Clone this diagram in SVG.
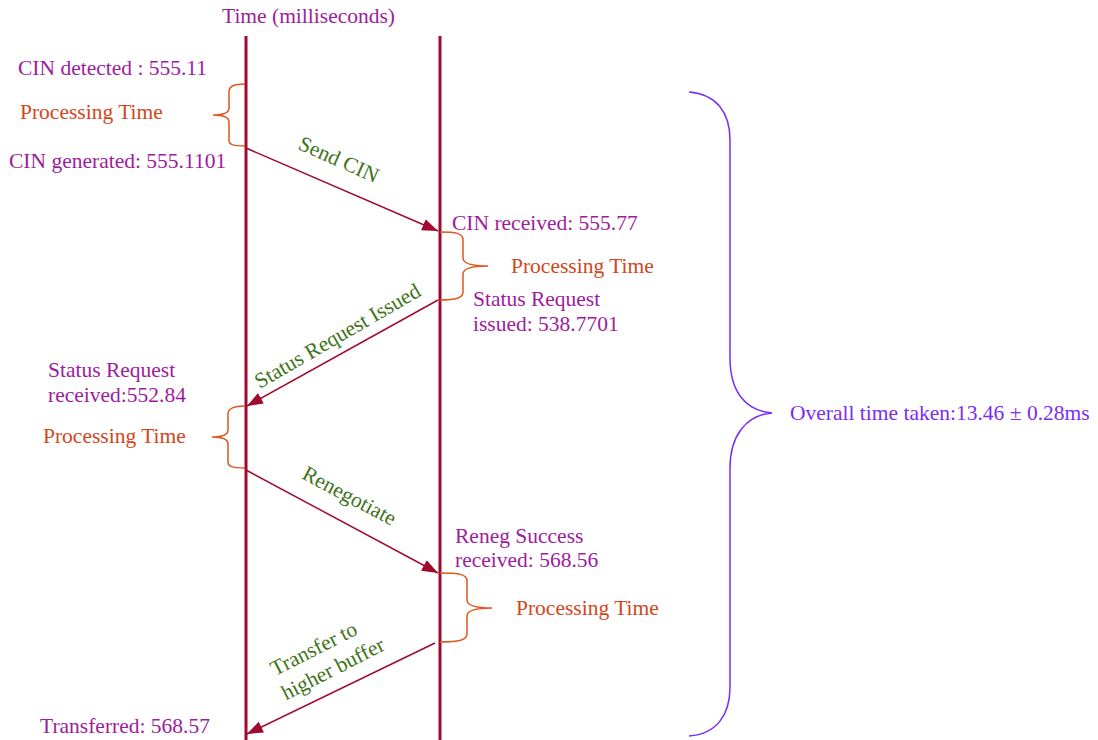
<svg xmlns="http://www.w3.org/2000/svg" width="1098" height="740" viewBox="0 0 1098 740">
  <style>
    text { font-family: "Liberation Serif", "Times New Roman", serif; font-size: 21.5px; }
    .ts { fill: #9e1c9c; }
    .pt { fill: #d4461a; }
    .msg { fill: #3e7318; text-anchor: middle; }
    .total { fill: #7b2cf5; }
    .life { stroke: #a00a2e; stroke-width: 3; fill: none; }
    .arrow { stroke: #a00a2e; stroke-width: 1.5; fill: none; marker-end: url(#head); }
    .brace { stroke: #e0561f; stroke-width: 1.5; fill: none; }
    .bigbrace { stroke: #7b2cf5; stroke-width: 1.5; fill: none; }
  </style>
  <defs>
    <marker id="head" viewBox="0 0 16 12" refX="16" refY="6" markerWidth="16" markerHeight="12" markerUnits="userSpaceOnUse" orient="auto">
      <path d="M0,0 L16,6 L0,12 z" fill="#a00a2e"/>
    </marker>
  </defs>
  <rect width="1098" height="740" fill="#ffffff"/>

  <text class="ts" x="222" y="23">Time (milliseconds)</text>

  <!-- lifelines -->
  <g id="lifelines">
    <line class="life" x1="246" y1="36" x2="246" y2="740"/>
    <line class="life" x1="440" y1="36" x2="440" y2="740"/>
  </g>

  <!-- messages between the two lifelines -->
  <g id="connectors">
    <line class="arrow" x1="246" y1="148" x2="438" y2="231"/>
    <line class="arrow" x1="438" y1="300" x2="247" y2="406"/>
    <line class="arrow" x1="246" y1="470" x2="438" y2="573"/>
    <line class="arrow" x1="435" y1="643" x2="247" y2="734"/>
  </g>

  <g id="msg-send-cin">
    <text class="msg" transform="translate(336,166) rotate(24)">Send CIN</text>
  </g>
  <g id="msg-status-request">
    <text class="msg" transform="translate(341,342) rotate(-30)">Status Request Issued</text>
  </g>
  <g id="msg-renegotiate">
    <text class="msg" transform="translate(346,502) rotate(28)">Renegotiate</text>
  </g>
  <g id="msg-transfer">
    <text class="msg" transform="translate(317,655) rotate(-27)">Transfer to</text>
    <text class="msg" transform="translate(336,675) rotate(-27)">higher buffer</text>
  </g>

  <!-- step 1: detection to generation -->
  <g id="step-cin-detect">
    <text class="ts" x="18" y="75">CIN detected : 555.11</text>
    <path class="brace" d="M245,84 C234,84 229,86 229,92 L229,108 C229,113 222,115 213,115 C222,115 229,117 229,122 L229,140 C229,145 234,146 245,146"/>
    <text class="pt" x="20" y="119">Processing Time</text>
    <text class="ts" x="9" y="168">CIN generated: 555.1101</text>
  </g>

  <!-- step 2: reception to status request -->
  <g id="step-cin-receive">
    <text class="ts" x="452" y="230">CIN received: 555.77</text>
    <path class="brace" d="M440,232 C456,232 463,233 463,240 L463,258 C463,263 472,266 488,266 C472,266 463,269 463,274 L463,292 C463,298 456,300 440,300"/>
    <text class="pt" x="511" y="273">Processing Time</text>
    <text class="ts" x="473" y="306">Status Request</text>
    <text class="ts" x="473" y="331">issued: 538.7701</text>
  </g>

  <!-- step 3: status received to renegotiation -->
  <g id="step-status-receive">
    <text class="ts" x="48" y="377">Status Request</text>
    <text class="ts" x="48" y="402">received:552.84</text>
    <path class="brace" d="M245,406 C234,406 228,408 228,414 L228,430 C228,435 221,437 212,437 C221,437 228,439 228,444 L228,462 C228,467 234,468 245,468"/>
    <text class="pt" x="43" y="443">Processing Time</text>
  </g>

  <!-- step 4: renegotiation success to transfer -->
  <g id="step-reneg-success">
    <text class="ts" x="455" y="543">Reneg Success</text>
    <text class="ts" x="455" y="567">received: 568.56</text>
    <path class="brace" d="M440,573 C459,573 467,574 467,581 L467,600 C467,605 476,608 492,608 C476,608 467,611 467,616 L467,634 C467,640 459,642 440,642"/>
    <text class="pt" x="516" y="615">Processing Time</text>
  </g>

  <g id="step-transferred">
    <text class="ts" x="40" y="733">Transferred: 568.57</text>
  </g>

  <!-- overall duration -->
  <g id="overall">
    <path class="bigbrace" d="M689,92 C716,94 730,112 730,140 L730,358 C730,392 746,411 772,413 C746,415 730,436 730,468 L730,687 C730,716 716,734 689,736"/>
    <text class="total" x="790" y="420">Overall time taken:13.46 ± 0.28ms</text>
  </g>
</svg>
